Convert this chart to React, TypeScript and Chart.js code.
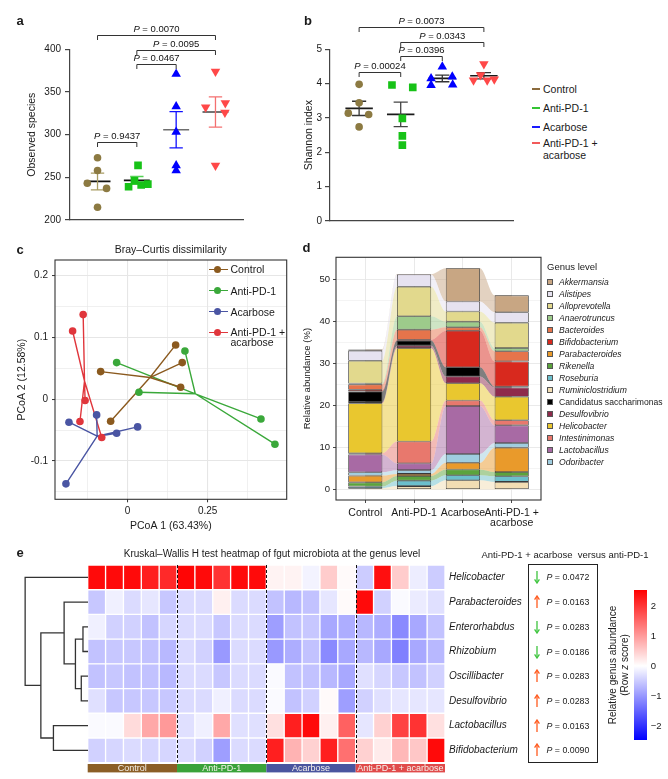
import React, { useEffect, useRef } from 'react';
import { Chart, registerables } from 'chart.js';

Chart.register(...registerables);

const FONT = "'Liberation Sans', Arial, Helvetica, sans-serif";
Chart.defaults.font.family = FONT;
Chart.defaults.color = '#1a1a1a';

// ================= DATA =================
const GROUPS = ['Control', 'Anti-PD-1', 'Acarbose', 'Anti-PD-1 + acarbose'];

// panel a: observed species
const OBS_CONTROL = [273, 258, 243, 237, 215];
const OBS_ANTI_PD1 = [264, 246, 241, 242, 239];
const OBS_ACARBOSE = [371, 333, 303, 264, 258];
const OBS_COMBO = [374, 332, 337, 326, 264];
const OBS_JITTER = [
  [0, 0, -0.26, 0.23, 0],
  [0.03, -0.06, 0.11, 0.28, -0.21],
  [0, 0, 0, 0, 0],
  [0, -0.25, 0.25, 0.24, 0],
];
const OBS_TICKS = [200, 250, 300, 350, 400];
const OBS_PAIRS = [[1, 2], [2, 3], [2, 4], [1, 4]];
const OBS_P = ['0.9437', '0.0467', '0.0095', '0.0070'];
const OBS_P_LEVEL = [291, 382.5, 399, 416.5];

// panel b: Shannon index
const SHANNON_CONTROL = [3.98, 3.44, 3.14, 3.1, 2.74];
const SHANNON_ANTI_PD1 = [3.96, 3.89, 2.99, 2.48, 2.21];
const SHANNON_ACARBOSE = [4.49, 4.15, 3.95, 4.2, 3.97];
const SHANNON_COMBO = [4.57, 4.25, 4.1, 4.1, 4.13];
const SHANNON_JITTER = [
  [0, 0, -0.26, 0.23, 0],
  [-0.21, 0.29, 0.04, 0.04, 0.04],
  [0, -0.27, -0.27, 0.24, 0.25],
  [0, -0.08, -0.25, 0.08, 0.25],
];
const SHANNON_TICKS = [0, 1, 2, 3, 4, 5];
const SHANNON_PAIRS = [[1, 2], [2, 3], [2, 4], [1, 4]];
const SHANNON_P = ['0.00024', '0.0396', '0.0343', '0.0073'];
const SHANNON_P_LEVEL = [4.35, 4.8, 5.22, 5.64];

// panel c: PCoA (PC1, PC2)
const PCOA_CONTROL = [[0.15, 0.0879], [0.1706, 0.0593], [-0.0844, 0.0447], [0.1656, 0.0194], [-0.0531, -0.0356]];
const PCOA_ANTI_PD1 = [[-0.0344, 0.0593], [0.179, 0.0782], [0.0353, 0.0113], [0.4166, -0.0319], [0.4603, -0.0728]];
const PCOA_ACARBOSE = [[-0.1834, -0.0372], [-0.0969, -0.0254], [-0.0344, -0.055], [0.0312, -0.0448], [-0.1928, -0.137]];
const PCOA_COMBO = [[-0.139, 0.137], [-0.172, 0.1105], [-0.133, -0.002], [-0.149, -0.036], [-0.081, -0.062]];
const PCOA_X_TICKS = [-0.125, 0, 0.125, 0.25, 0.375];
const PCOA_X_LABELED = [0, 0.25];
const PCOA_Y_TICKS = [-0.15, -0.1, -0.05, 0, 0.05, 0.1, 0.15, 0.2];
const PCOA_Y_LABELED = [-0.1, 0, 0.1, 0.2];

// panel d: relative abundance (%), stacking order bottom -> top
const GENERA = ['Ruminiclostridium', 'Roseburia', 'Rikenella', 'Parabacteroides', 'Odoribacter', 'Lactobacillus', 'Intestinimonas', 'Helicobacter', 'Desulfovibrio', 'Candidatus saccharimonas', 'Bifidobacterium', 'Bacteroides', 'Anaerotruncus', 'Alloprevotella', 'Alistipes', 'Akkermansia'];
const ABUND_CONTROL = [0.3, 0.4, 1.0, 1.6, 0.8, 4.2, 0.3, 11.9, 0.3, 2.5, 0.4, 1.3, 0.2, 5.4, 2.4, 0.3];
const ABUND_ANTI_PD1 = [0.8, 1.3, 1.1, 0.5, 0.9, 1.6, 5.2, 22.2, 0.6, 1.2, 0.2, 2.4, 3.2, 7.0, 2.9, 0.1];
const ABUND_ACARBOSE = [2.2, 1.2, 1.35, 1.6, 2.1, 11.4, 1.3, 4.1, 1.6, 2.2, 8.7, 0.8, 1.35, 2.4, 2.4, 7.9];
const ABUND_COMBO = [1.8, 1.35, 1.0, 5.8, 1.1, 4.2, 1.2, 5.6, 2.2, 0.2, 6.0, 2.4, 0.8, 6.0, 2.5, 4.0];
const ABUND_TICKS = [0, 5, 10, 15, 20, 25, 30, 35, 40, 45, 50];
const ABUND_X_LABELS = ['Control', 'Anti-PD-1', 'Acarbose', ['Anti-PD-1 +', 'acarbose']];
const LEGEND_GENERA = ['Akkermansia', 'Alistipes', 'Alloprevotella', 'Anaerotruncus', 'Bacteroides', 'Bifidobacterium', 'Parabacteroides', 'Rikenella', 'Roseburia', 'Ruminiclostridium', 'Candidatus saccharimonas', 'Desulfovibrio', 'Helicobacter', 'Intestinimonas', 'Lactobacillus', 'Odoribacter'];

// panel e: heatmap (row z score), rows top -> bottom, 20 samples
const HEAT_ROWS = ['Helicobacter', 'Parabacteroides', 'Enterorhabdus', 'Rhizobium', 'Oscillibacter', 'Desulfovibrio', 'Lactobacillus', 'Bifidobacterium'];
const SAMPLES = ['C1', 'C2', 'C3', 'C4', 'C5', 'P1', 'P2', 'P3', 'P4', 'P5', 'A1', 'A2', 'A3', 'A4', 'A5', 'AP1', 'AP2', 'AP3', 'AP4', 'AP5'];
const SAMPLE_GROUP = [0, 0, 0, 0, 0, 1, 1, 1, 1, 1, 2, 2, 2, 2, 2, 3, 3, 3, 3, 3];
const Z_HELICOBACTER = [2.4, 2.4, 2.4, 2.2, 2.1, 2.45, 2.4, 2.0, 2.4, 2.4, 0.12, 0.12, -0.12, 0.5, 0.05, -0.5, 2.35, 0.5, -0.18, -0.5];
const Z_PARABACTEROIDES = [-0.55, -0.15, -0.35, -0.25, -0.55, -0.35, -0.35, 0.15, -0.35, -0.35, -0.6, -0.7, -0.6, -0.25, 0.05, 2.4, -0.45, -0.05, -0.2, -0.3];
const Z_ENTERORHABDUS = [-0.15, -0.45, -0.45, -0.6, -0.4, -0.35, -0.35, -0.55, -0.35, -0.35, -0.95, -0.6, -0.55, -0.85, -0.8, -0.7, -0.8, -1.15, -0.85, -0.6];
const Z_RHIZOBIUM = [-0.6, -0.55, -0.55, -0.6, -0.7, -0.35, -0.45, -1.0, -0.35, -0.35, -1.0, -0.8, -0.6, -1.15, -0.85, -0.7, -0.85, -1.25, -0.85, -0.7];
const Z_OSCILLIBACTER = [-0.6, -0.55, -0.6, -0.6, -0.7, -0.35, -0.35, -0.55, -0.35, -0.35, -0.05, -0.6, -0.6, -0.7, -0.85, -0.3, -0.4, -0.55, -0.6, -0.45];
const Z_DESULFOVIBRIO = [-0.3, -0.55, -0.55, -0.55, -0.55, -0.35, -0.35, -0.15, -0.35, -0.35, -0.05, -0.6, -0.45, 0.05, -0.95, -0.45, -0.3, -0.25, -0.25, -0.25];
const Z_LACTOBACILLUS = [-0.05, -0.05, 0.35, 0.85, 1.0, -0.3, -0.15, 0.85, -0.3, -0.3, 0.3, 2.2, 2.4, 0.15, 1.55, -0.25, 0.45, 1.85, 2.0, 0.3];
const Z_BIFIDOBACTERIUM = [-0.45, -0.4, -0.35, -0.4, -0.4, -0.35, -0.45, -0.95, -0.35, -0.35, 2.2, 0.75, 0.45, 2.2, 1.4, 0.45, 0.2, 0.7, 0.55, 2.4];
const HEAT_Z = [Z_HELICOBACTER, Z_PARABACTEROIDES, Z_ENTERORHABDUS, Z_RHIZOBIUM, Z_OSCILLIBACTER, Z_DESULFOVIBRIO, Z_LACTOBACILLUS, Z_BIFIDOBACTERIUM];
// dendrogram merges: [childA, childB, height]; leaves 0..7 are rows, new nodes 8..
const DENDRO_MERGES = [[2, 3, 0.08], [4, 5, 0.107], [8, 9, 0.2], [1, 10, 0.38], [6, 7, 0.55], [11, 12, 0.75], [0, 13, 1.0]];
const E_PVALUES = ['0.0472', '0.0163', '0.0283', '0.0186', '0.0283', '0.0283', '0.0163', '0.0090'];
const E_UP = [false, true, false, false, true, true, true, true];
const COLORBAR_TICKS = [2, 1, 0, -1, -2];

// ================= STYLES =================
const POINT_COLORS = ['#8c7a42', '#17c217', '#0000ff', '#ff4848'];
const POINT_SHAPES = ['circle', 'rect', 'triangle', 'triangle'];
const POINT_ROT = [0, 0, 0, 180];
const POINT_RADIUS = [3.8, 5.4, 5.5, 5.5];
const MEAN_COLORS_A = ['#111111', '#111111', '#6e6e6e', '#444444'];
const ERR_COLORS_A = ['#a89c63', '#54d054', '#1010ff', '#f47070'];
const MEAN_COLORS_B = ['#1a1a1a', '#1a1a1a', '#1a1a1a', '#1a1a1a'];
const ERR_COLORS_B = ['#333333', '#444444', '#333333', '#333333'];
const LEGEND_AB_COLORS = ['#8b6b3d', '#33c433', '#1a1aff', '#f25a5a'];
const PCOA_COLORS = ['#8b5a1f', '#3aa83a', '#4a55a3', '#e0363c'];
const GENUS_COLORS = ['#f2ddb3', '#6cbfcc', '#5ba33c', '#e99a2b', '#9fcde0', '#a86aa4', '#e8786d', '#e9c72f', '#8e2a4b', '#000000', '#d8291e', '#e6744b', '#9dcb8b', '#e2d98d', '#e6e2f0', '#c8a683'];
const GROUP_BAR_COLORS = ['#8b5e26', '#3aa33a', '#4a559f', '#e04a4a'];

// ================= HELPERS =================
function mean(a: number[]) { return a.reduce((s, v) => s + v, 0) / a.length; }
function sem(a: number[]) {
  const m = mean(a);
  const v = a.reduce((s, x) => s + (x - m) * (x - m), 0) / (a.length - 1);
  return Math.sqrt(v / a.length);
}
function hexA(hex: string, a: number) {
  const n = parseInt(hex.slice(1), 16);
  return `rgba(${(n >> 16) & 255},${(n >> 8) & 255},${n & 255},${a})`;
}
function zColor(z: number) {
  const t = Math.max(-1, Math.min(1, z / 2.5));
  if (t >= 0) { const c = Math.round(255 * (1 - t)); return `rgb(255,${c},${c})`; }
  const c = Math.round(255 * (1 + t));
  return `rgb(${c},${c},255)`;
}
const near = (a: number, list: number[]) => list.some((v) => Math.abs(v - a) < 1e-6);
const setTicks = (vals: number[]) => (s: any) => { s.ticks = vals.map((v) => ({ value: v })); };

const framePlugin = {
  id: 'frame',
  afterDatasetsDraw(chart: any) {
    const { ctx, chartArea: { left, top, right, bottom } } = chart;
    ctx.save();
    ctx.strokeStyle = '#333';
    ctx.lineWidth = 1.1;
    ctx.strokeRect(left, top, right - left, bottom - top);
    ctx.restore();
  },
};

function bracketPlugin(pairs: number[][], labels: string[], levels: number[]) {
  return {
    id: 'brackets',
    afterDraw(chart: any) {
      const { ctx, scales: { x, y } } = chart;
      ctx.save();
      ctx.strokeStyle = '#333';
      ctx.lineWidth = 1;
      pairs.forEach((pr, i) => {
        const x1 = x.getPixelForValue(pr[0]);
        const x2 = x.getPixelForValue(pr[1]);
        const yy = Math.round(y.getPixelForValue(levels[i])) + 0.5;
        ctx.beginPath();
        ctx.moveTo(x1, yy + 4.5);
        ctx.lineTo(x1, yy);
        ctx.lineTo(x2, yy);
        ctx.lineTo(x2, yy + 4.5);
        ctx.stroke();
        const it = `italic 9.5px ${FONT}`;
        const nf = `9.5px ${FONT}`;
        ctx.font = it;
        const wP = ctx.measureText('P').width;
        ctx.font = nf;
        const rest = ' = ' + labels[i];
        const wR = ctx.measureText(rest).width;
        const sx = (x1 + x2) / 2 - (wP + wR) / 2;
        ctx.textBaseline = 'middle';
        ctx.textAlign = 'left';
        ctx.fillStyle = '#111';
        ctx.font = it;
        ctx.fillText('P', sx, yy - 6);
        ctx.font = nf;
        ctx.fillText(rest, sx + wP, yy - 6);
      });
      ctx.restore();
    },
  };
}

const MEANW = 0.33;
const CAPW = 0.17;

function makeDotConfig(p: any) {
  const datasets: any[] = [];
  p.groups.forEach((vals: number[], g: number) => {
    datasets.push({
      type: 'scatter',
      data: vals.map((v, i) => ({ x: g + 1 + p.jitter[g][i], y: v })),
      pointStyle: POINT_SHAPES[g],
      pointRotation: POINT_ROT[g],
      pointRadius: POINT_RADIUS[g],
      pointBackgroundColor: POINT_COLORS[g],
      pointBorderWidth: 0,
      order: 0,
    });
  });
  p.groups.forEach((vals: number[], g: number) => {
    const cx = g + 1;
    const m = mean(vals);
    const s = sem(vals);
    datasets.push({
      type: 'line',
      data: [
        { x: cx, y: m - s }, { x: cx, y: m + s }, { x: cx, y: null },
        { x: cx - CAPW, y: m + s }, { x: cx + CAPW, y: m + s }, { x: cx, y: null },
        { x: cx - CAPW, y: m - s }, { x: cx + CAPW, y: m - s },
      ],
      borderColor: p.errColors[g],
      borderWidth: 1.3,
      pointRadius: 0,
      spanGaps: false,
      order: 1,
    });
    datasets.push({
      type: 'line',
      data: [{ x: cx - MEANW, y: m }, { x: cx + MEANW, y: m }],
      borderColor: p.meanColors[g],
      borderWidth: 1.6,
      pointRadius: 0,
      order: 1,
    });
  });
  return {
    type: 'scatter',
    data: { datasets },
    options: {
      responsive: false,
      animation: false,
      events: [],
      layout: { padding: { top: 49.3, right: 17, bottom: 9, left: 0 } },
      plugins: { legend: { display: false }, tooltip: { enabled: false } },
      scales: {
        x: {
          type: 'linear', min: 0.3, max: 4.7, offset: false,
          ticks: { display: false },
          grid: { display: false },
          border: { color: '#444', width: 1.2 },
          afterFit: (s: any) => { s.height = 0; },
        },
        y: {
          min: p.min, max: p.max,
          afterBuildTicks: setTicks(p.ticks),
          ticks: { font: { size: 10 }, padding: p.tickPad, color: '#1a1a1a' },
          grid: { drawOnChartArea: false, tickLength: 5, color: '#444', lineWidth: 1.2 },
          border: { color: '#444', width: 1.2 },
          title: { display: true, text: p.title, font: { size: 10.5 }, color: '#1a1a1a', padding: { top: p.titleX - 6.3, bottom: 0 } },
          afterFit: (s: any) => { s.width = 70; },
        },
      },
    },
    plugins: [bracketPlugin(p.pairs, p.pLabels, p.pLevels)],
  };
}

const makeObserved = () => makeDotConfig({
  groups: [OBS_CONTROL, OBS_ANTI_PD1, OBS_ACARBOSE, OBS_COMBO], jitter: OBS_JITTER,
  min: 200, max: 400, ticks: OBS_TICKS, title: 'Observed species', titleX: 32, tickPad: 4,
  pairs: OBS_PAIRS, pLabels: OBS_P, pLevels: OBS_P_LEVEL, meanColors: MEAN_COLORS_A, errColors: ERR_COLORS_A,
});
const makeShannon = () => makeDotConfig({
  groups: [SHANNON_CONTROL, SHANNON_ANTI_PD1, SHANNON_ACARBOSE, SHANNON_COMBO], jitter: SHANNON_JITTER,
  min: 0, max: 5, ticks: SHANNON_TICKS, title: 'Shannon index', titleX: 49.3, tickPad: 3,
  pairs: SHANNON_PAIRS, pLabels: SHANNON_P, pLevels: SHANNON_P_LEVEL, meanColors: MEAN_COLORS_B, errColors: ERR_COLORS_B,
});

function makePcoa() {
  const groups = [PCOA_CONTROL, PCOA_ANTI_PD1, PCOA_ACARBOSE, PCOA_COMBO];
  const datasets: any[] = [];
  groups.forEach((pts, g) => {
    datasets.push({
      type: 'scatter',
      data: pts.map((q) => ({ x: q[0], y: q[1] })),
      pointRadius: 3.8,
      pointBackgroundColor: PCOA_COLORS[g],
      pointBorderWidth: 0,
      order: 0,
    });
  });
  groups.forEach((pts, g) => {
    const cx = mean(pts.map((q) => q[0]));
    const cy = mean(pts.map((q) => q[1]));
    const data: any[] = [];
    pts.forEach((q) => { data.push({ x: q[0], y: q[1] }, { x: cx, y: cy }, { x: cx, y: null }); });
    datasets.push({ type: 'line', data, borderColor: PCOA_COLORS[g], borderWidth: 1.4, pointRadius: 0, spanGaps: false, order: 1 });
  });
  const gridW = (list: number[]) => (c: any) => (c.tick && near(c.tick.value, list) ? 1.1 : 0.6);
  const tickC = (list: number[]) => (c: any) => (c.tick && near(c.tick.value, list) ? '#333' : 'rgba(0,0,0,0)');
  return {
    type: 'scatter',
    data: { datasets },
    options: {
      responsive: false, animation: false, events: [],
      layout: { padding: { top: 30, right: 13.3, bottom: 0, left: 0 } },
      plugins: { legend: { display: false }, tooltip: { enabled: false } },
      scales: {
        x: {
          type: 'linear', min: -0.227, max: 0.497, offset: false,
          afterBuildTicks: setTicks(PCOA_X_TICKS),
          ticks: { font: { size: 10 }, padding: 3, color: '#1a1a1a', callback: (v: number) => (near(v, PCOA_X_LABELED) ? String(+v.toFixed(2)) : '') },
          grid: { color: '#e6e6e6', lineWidth: gridW(PCOA_X_LABELED), tickColor: tickC(PCOA_X_LABELED), tickLength: 3, tickWidth: 1 },
          border: { display: false },
          title: { display: true, text: 'PCoA 1 (63.43%)', font: { size: 10.5 }, color: '#1a1a1a', padding: { top: 0, bottom: 7.7 } },
          afterFit: (s: any) => { s.height = 40.7; },
        },
        y: {
          min: -0.162, max: 0.2254,
          afterBuildTicks: setTicks(PCOA_Y_TICKS),
          ticks: { font: { size: 10 }, padding: 4, color: '#1a1a1a', callback: (v: number) => (near(v, PCOA_Y_LABELED) ? String(+v.toFixed(2)) : '') },
          grid: { color: '#e6e6e6', lineWidth: gridW(PCOA_Y_LABELED), tickColor: tickC(PCOA_Y_LABELED), tickLength: 3, tickWidth: 1 },
          border: { display: false },
          title: { display: true, text: 'PCoA 2 (12.58%)', font: { size: 10.5 }, color: '#1a1a1a', padding: { top: 15.4, bottom: 0 } },
          afterFit: (s: any) => { s.width = 55; },
        },
      },
    },
    plugins: [framePlugin],
  };
}

const BAR_HALF = 0.35;
function makeAbundance() {
  const groupAbund = [ABUND_CONTROL, ABUND_ANTI_PD1, ABUND_ACARBOSE, ABUND_COMBO];
  const n = groupAbund.length;
  const flowPts = (k: number) => {
    const pts: any[] = [];
    groupAbund.forEach((arr, g) => {
      const c = g + 1;
      const left = g === 0 ? c : c - BAR_HALF;
      const right = g === n - 1 ? c : c + BAR_HALF;
      pts.push({ x: left, y: arr[k] }, { x: right, y: arr[k] });
    });
    return pts;
  };
  const lines = GENERA.map((name, k) => ({
    type: 'line', label: name + ' flow', data: flowPts(k),
    backgroundColor: hexA(GENUS_COLORS[k], 0.5),
    borderColor: 'rgba(0,0,0,0)', borderWidth: 0, pointRadius: 0,
    fill: k === 0 ? 'origin' : '-1',
    cubicInterpolationMode: 'monotone', order: 1,
  }));
  const bars = GENERA.map((name, k) => ({
    type: 'bar', label: name,
    data: groupAbund.map((arr, g) => ({ x: g + 1, y: arr[k] })),
    backgroundColor: GENUS_COLORS[k], borderColor: '#3a3a3a', borderWidth: 0.8, borderSkipped: false,
    barPercentage: 2 * BAR_HALF, categoryPercentage: 1, order: 0,
  }));
  const major = (c: any) => c.tick && c.tick.value % 10 === 0;
  return {
    type: 'bar',
    data: { datasets: [...lines, ...bars] },
    options: {
      responsive: false, animation: false, events: [],
      layout: { padding: { top: 27.3, right: 9, bottom: 0, left: 0 } },
      plugins: { legend: { display: false }, tooltip: { enabled: false } },
      scales: {
        x: {
          type: 'linear', min: 0.4, max: 4.6, stacked: true, offset: false,
          afterBuildTicks: setTicks([1, 2, 3, 4]),
          ticks: { font: { size: 10.5, lineHeight: 0.95 }, padding: 5, color: '#1a1a1a', autoSkip: false, maxRotation: 0, callback: (_v: any, i: number) => ABUND_X_LABELS[i] },
          grid: { offset: false, color: '#e6e6e6', lineWidth: 0.9, tickColor: '#333', tickLength: 3 },
          border: { display: false },
          afterFit: (s: any) => { s.height = 40; },
        },
        y: {
          min: -2.5, max: 55.2, stacked: true,
          afterBuildTicks: setTicks(ABUND_TICKS),
          ticks: { font: { size: 9.5 }, padding: 3, color: '#1a1a1a', callback: (v: number) => (v % 10 === 0 ? String(v) : '') },
          grid: { color: '#e8e8e8', lineWidth: (c: any) => (major(c) ? 0.9 : 0.5), tickColor: (c: any) => (major(c) ? '#333' : 'rgba(0,0,0,0)'), tickLength: 3 },
          border: { display: false },
          title: { display: true, text: 'Relative abundance (%)', font: { size: 9.5 }, color: '#1a1a1a', padding: { top: 1.3, bottom: 0 } },
          afterFit: (s: any) => { s.width = 36; },
        },
      },
    },
    plugins: [framePlugin],
  };
}

const heatDecor = {
  id: 'heatDecor',
  afterDatasetsDraw(chart: any) {
    const { ctx, chartArea: { top, bottom }, scales: { x } } = chart;
    ctx.save();
    GROUPS.forEach((name, g) => {
      const idx = SAMPLE_GROUP.map((v, i) => (v === g ? i : -1)).filter((i) => i >= 0);
      const x0 = x.getPixelForValue(idx[0] - 0.5);
      const x1 = x.getPixelForValue(idx[idx.length - 1] + 0.5);
      ctx.fillStyle = GROUP_BAR_COLORS[g];
      ctx.fillRect(x0, bottom + 1.3, x1 - x0, 8.4);
      ctx.fillStyle = '#f4f1ea';
      ctx.font = `9px ${FONT}`;
      ctx.textAlign = 'center';
      ctx.textBaseline = 'middle';
      ctx.fillText(name, (x0 + x1) / 2, bottom + 5.7);
      if (g > 0) {
        ctx.save();
        ctx.setLineDash([3, 2]);
        ctx.strokeStyle = '#111';
        ctx.lineWidth = 1;
        ctx.beginPath();
        ctx.moveTo(Math.round(x0) + 0.5, top);
        ctx.lineTo(Math.round(x0) + 0.5, bottom);
        ctx.stroke();
        ctx.restore();
      }
    });
    ctx.restore();
  },
};

function makeHeatmap() {
  const datasets: any[] = [];
  for (let r = HEAT_ROWS.length - 1; r >= 0; r--) {
    datasets.push({
      label: HEAT_ROWS[r],
      data: HEAT_Z[r].map(() => 1),
      backgroundColor: HEAT_Z[r].map(zColor),
      borderColor: '#ffffff', borderWidth: 1, borderSkipped: false,
      barPercentage: 1, categoryPercentage: 1,
    });
  }
  const nRows = HEAT_ROWS.length;
  return {
    type: 'bar',
    data: { labels: SAMPLES, datasets },
    options: {
      responsive: false, animation: false, events: [],
      layout: { padding: { top: 25, right: 0, bottom: 16.3, left: 87.7 } },
      plugins: { legend: { display: false }, tooltip: { enabled: false } },
      scales: {
        x: { display: false, stacked: true },
        y: {
          position: 'right', stacked: true, min: 0, max: nRows,
          afterBuildTicks: setTicks(HEAT_ROWS.map((_, r) => nRows - 0.5 - r)),
          ticks: { font: { size: 10, style: 'italic' }, padding: 4, color: '#1a1a1a', autoSkip: false, callback: (v: number) => HEAT_ROWS[Math.round(nRows - 0.5 - v)] },
          grid: { display: false, drawTicks: false },
          border: { display: false },
          afterFit: (s: any) => { s.width = 223; },
        },
      },
    },
    plugins: [heatDecor],
  };
}

function makeDendrogram() {
  const nRows = HEAT_ROWS.length;
  const nodes: { y: number; h: number }[] = HEAT_ROWS.map((_, r) => ({ y: nRows - 0.5 - r, h: 0 }));
  const datasets: any[] = [];
  DENDRO_MERGES.forEach(([a, b, h]) => {
    const A = nodes[a];
    const B = nodes[b];
    datasets.push({
      type: 'line',
      data: [{ x: A.h, y: A.y }, { x: h, y: A.y }, { x: h, y: B.y }, { x: B.h, y: B.y }],
      borderColor: '#333', borderWidth: 1.3, pointRadius: 0,
    });
    nodes.push({ y: (A.y + B.y) / 2, h });
  });
  return {
    type: 'scatter',
    data: { datasets },
    options: {
      responsive: false, animation: false, events: [],
      layout: { padding: { top: 25, right: 0, bottom: 16.3, left: 0 } },
      plugins: { legend: { display: false }, tooltip: { enabled: false } },
      scales: {
        x: { type: 'linear', display: false, reverse: true, min: 0, max: 1.4 },
        y: { type: 'linear', display: false, min: 0, max: nRows },
      },
    },
  };
}

// ================= COMPONENTS =================
function ChartBox({ left, top, width, height, make }: any) {
  const ref = useRef<HTMLCanvasElement>(null);
  useEffect(() => {
    const chart = new Chart(ref.current as HTMLCanvasElement, make());
    return () => chart.destroy();
  }, [make]);
  return <canvas ref={ref} width={width} height={height} style={{ position: 'absolute', left, top, width, height }} />;
}

function T({ x, y, children, size = 10, anchor = 'start', italic = false, bold = false, color = '#1a1a1a', rotate = 0 }: any) {
  const tx = anchor === 'middle' ? '-50%' : anchor === 'end' ? '-100%' : '0';
  return (
    <div style={{
      position: 'absolute', left: x, top: y,
      transform: `translate(${tx}, -50%)${rotate ? ` rotate(${rotate}deg)` : ''}`,
      fontSize: size, lineHeight: 1, whiteSpace: 'nowrap',
      fontStyle: italic ? 'italic' : 'normal', fontWeight: bold ? 700 : 400, color,
    }}>{children}</div>
  );
}

function Arrow({ x, y, up, color }: any) {
  return (
    <svg style={{ position: 'absolute', left: x - 4, top: y - 7 }} width={8} height={14}>
      {up ? (
        <g stroke={color} strokeWidth={1.3} fill="none">
          <line x1={4} y1={13} x2={4} y2={1.5} />
          <path d="M1.6,4.6 L4,1 L6.4,4.6" />
        </g>
      ) : (
        <g stroke={color} strokeWidth={1.3} fill="none">
          <line x1={4} y1={1} x2={4} y2={12.5} />
          <path d="M1.6,9.4 L4,13 L6.4,9.4" />
        </g>
      )}
    </svg>
  );
}

const AB_LEGEND_Y = [89.3, 108.2, 126.7, 142.7];
const C_LEGEND_Y = [269.3, 290.7, 311.7, 332.3];
const HEAT_ROW_Y0 = 577.4;
const HEAT_ROW_STEP = 24.7;

export default function App() {
  return (
    <div style={{ position: 'absolute', left: 0, top: 0, width: 668, height: 779, background: '#fff', overflow: 'hidden', fontFamily: FONT, color: '#1a1a1a' }}>
      <ChartBox left={0} top={0} width={260} height={230} make={makeObserved} />
      <ChartBox left={260} top={0} width={270} height={230} make={makeShannon} />
      <ChartBox left={0} top={230} width={300} height={310} make={makePcoa} />
      <ChartBox left={300} top={230} width={250} height={310} make={makeAbundance} />
      <ChartBox left={0} top={540} width={668} height={239} make={makeHeatmap} />
      <ChartBox left={0} top={540} width={88} height={239} make={makeDendrogram} />

      {/* panel letters */}
      <T x={16.5} y={20} size={13} bold>a</T>
      <T x={304} y={20} size={13} bold>b</T>
      <T x={16.5} y={249} size={13} bold>c</T>
      <T x={302.5} y={247.3} size={13} bold>d</T>
      <T x={16.5} y={551.7} size={13} bold>e</T>

      {/* a/b legend */}
      {GROUPS.map((g, i) => {
        const parts = g === 'Anti-PD-1 + acarbose' ? ['Anti-PD-1 +', 'acarbose'] : [g];
        return (
          <React.Fragment key={g}>
            <div style={{ position: 'absolute', left: 531.5, top: AB_LEGEND_Y[i] - 1, width: 8, height: 2, background: LEGEND_AB_COLORS[i] }} />
            {parts.map((t, j) => <T key={t} x={543} y={AB_LEGEND_Y[i] + j * 12.3} size={10.5}>{t}</T>)}
          </React.Fragment>
        );
      })}

      {/* c title and legend */}
      <T x={170.8} y={249} size={10.5} anchor="middle">Bray–Curtis dissimilarity</T>
      {GROUPS.map((g, i) => {
        const parts = g === 'Anti-PD-1 + acarbose' ? ['Anti-PD-1 +', 'acarbose'] : [g];
        return (
          <React.Fragment key={'c' + g}>
            <div style={{ position: 'absolute', left: 208.5, top: C_LEGEND_Y[i] - 0.75, width: 19, height: 1.5, background: PCOA_COLORS[i] }} />
            <div style={{ position: 'absolute', left: 217.5 - 3.8, top: C_LEGEND_Y[i] - 3.8, width: 7.6, height: 7.6, borderRadius: '50%', background: PCOA_COLORS[i] }} />
            {parts.map((t, j) => <T key={t} x={230.5} y={C_LEGEND_Y[i] + j * 9.6} size={10.5}>{t}</T>)}
          </React.Fragment>
        );
      })}

      {/* d legend */}
      <T x={547} y={266.7} size={9.5}>Genus level</T>
      {LEGEND_GENERA.map((name, i) => {
        const k = GENERA.indexOf(name);
        const y = 282.3 + i * 12;
        return (
          <React.Fragment key={name}>
            <div style={{ position: 'absolute', left: 546.8, top: y - 3.2, width: 6.4, height: 6.4, background: GENUS_COLORS[k], border: '1px solid #555', boxSizing: 'border-box' }} />
            <T x={559} y={y} size={8.6} italic={name !== 'Candidatus saccharimonas'}>{name}</T>
          </React.Fragment>
        );
      })}

      {/* e titles */}
      <T x={272} y={554} size={10} anchor="middle">Kruskal–Wallis H test heatmap of fgut microbiota at the genus level</T>
      <T x={565} y={555} size={9.5} anchor="middle">Anti-PD-1 + acarbose&nbsp; versus anti-PD-1</T>
      <div style={{ position: 'absolute', left: 527.7, top: 564, width: 70, height: 198.7, border: '1px solid #222', boxSizing: 'border-box' }} />
      {E_PVALUES.map((p, i) => {
        const y = HEAT_ROW_Y0 + i * HEAT_ROW_STEP;
        return (
          <React.Fragment key={'p' + i}>
            <Arrow x={536.7} y={y} up={E_UP[i]} color={E_UP[i] ? '#ff5a1e' : '#3ec43e'} />
            <T x={546.5} y={y} size={8.8}><i>P</i> = {p}</T>
          </React.Fragment>
        );
      })}

      {/* colorbar */}
      <div style={{ position: 'absolute', left: 634, top: 590, width: 12.7, height: 150, background: 'linear-gradient(to bottom, #ff0000 0%, #ffffff 50.6%, #0000ff 100%)' }} />
      {COLORBAR_TICKS.map((t) => (
        <T key={'cb' + t} x={650.7} y={666 - t * 30} size={9.5}>{t < 0 ? '−' + Math.abs(t) : String(t)}</T>
      ))}
      <T x={613.3} y={665} size={10} anchor="middle" rotate={-90}>Relative genus abundance</T>
      <T x={624.5} y={665} size={10} anchor="middle" rotate={-90}>(Row <i>z</i> score)</T>
    </div>
  );
}
